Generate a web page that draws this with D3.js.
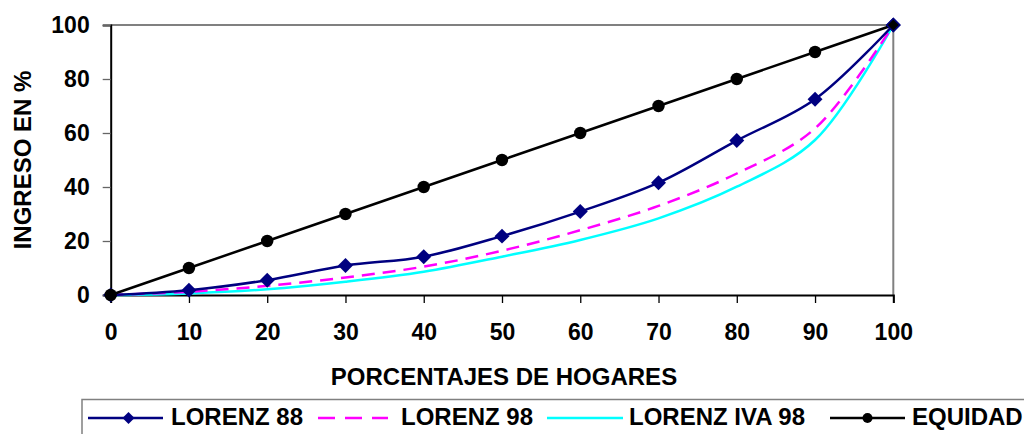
<!DOCTYPE html>
<html><head><meta charset="utf-8">
<script src="https://cdn.jsdelivr.net/npm/d3@7"></script>
<style>body{margin:0;background:#fff;}svg{display:block;font-family:Arial,"Liberation Sans",sans-serif;font-weight:bold;}</style>
</head><body>
<svg id="c" width="1024" height="434"></svg>
<script>
const xValues = [0,10,20,30,40,50,60,70,80,90,100];
const lorenz88 = [0,1.8,5.5,10.9,14.2,21.8,30.9,41.6,57.2,72.5,100];
const lorenz98 = [0,1.2,3.4,6.5,10.5,16.4,24,33,45,61.7,100];
const lorenzIva98 = [0,0.6,2.1,4.9,8.6,14.2,20.4,28.4,40.1,57.4,100];
const equidad = [0,10,20,30,40,50,60,70,80,90,100];
const yTicks = [0,20,40,60,80,100];
const seriesNames = ["LORENZ 88","LORENZ 98","LORENZ IVA 98","EQUIDAD"];

const svg = d3.select("#c");
const L=110.7, R=893.3, T=25, B=295;
const x = d3.scaleLinear().domain([0,100]).range([L,R]);
const y = d3.scaleLinear().domain([0,100]).range([B,T]);
const FONT = "Arial, 'Liberation Sans', sans-serif";

// plot frame
svg.append("line").attr("x1",L).attr("x2",R).attr("y1",T).attr("y2",T).attr("stroke","#808080").attr("stroke-width",2);
svg.append("line").attr("x1",R).attr("x2",R).attr("y1",T).attr("y2",B).attr("stroke","#808080").attr("stroke-width",2);

// axes
const yAxis = d3.axisLeft(y).tickValues(yTicks).tickSize(8).tickPadding(13);
const gy = svg.append("g").attr("transform",`translate(${L},0)`).call(yAxis);
const xAxis = d3.axisBottom(x).tickValues(xValues).tickSize(8).tickPadding(21);
const gx = svg.append("g").attr("transform",`translate(0,${B})`).call(xAxis);
[gy,gx].forEach(g=>{
  g.select(".domain").attr("stroke","#000").attr("stroke-width",2);
  g.selectAll(".tick line").attr("stroke","#000").attr("stroke-width",1.3);
  g.selectAll(".tick text").attr("font-size",23).attr("font-weight","bold").attr("fill","#000").attr("font-family",FONT);
});
gy.selectAll(".tick line").attr("stroke","#666");

// titles
svg.append("text").attr("x",x(50)+2).attr("y",385).attr("text-anchor","middle").attr("font-size",24).text("PORCENTAJES DE HOGARES");
svg.append("text").attr("transform",`translate(31,${(T+B)/2}) rotate(-90)`).attr("text-anchor","middle").attr("font-size",24).text("INGRESO EN %");

const smooth = d3.line().x((d,i)=>x(xValues[i])).y(d=>y(d)).curve(d3.curveCatmullRom.alpha(0.5));
const straight = d3.line().x((d,i)=>x(xValues[i])).y(d=>y(d));

const g = svg.append("g");
g.append("path").attr("d",smooth(lorenzIva98)).attr("fill","none").attr("stroke","#00FFFF").attr("stroke-width",2.5);
g.append("path").attr("d",smooth(lorenz98)).attr("fill","none").attr("stroke","#FF00FF").attr("stroke-width",2.5).attr("stroke-dasharray","13,8");
g.append("path").attr("d",smooth(lorenz88)).attr("fill","none").attr("stroke","#000080").attr("stroke-width",2.5);
g.append("path").attr("d",straight(equidad)).attr("fill","none").attr("stroke","#000").attr("stroke-width",2.5);

const diamondPath = d3.symbol().type(d3.symbolSquare).size(112)();
g.selectAll(".dm").data(lorenz88).join("path")
  .attr("d",diamondPath).attr("transform",(d,i)=>`translate(${x(xValues[i])},${y(d)}) rotate(45)`)
  .attr("fill","#000080");
g.selectAll(".ci").data(equidad.slice(0,10)).join("circle")
  .attr("cx",(d,i)=>x(xValues[i])).attr("cy",d=>y(d)).attr("r",6.2).attr("fill","#000");
// last equidad point is covered by the diamond at 100
g.append("path").attr("d",diamondPath)
  .attr("transform",`translate(${x(100)},${y(100)}) rotate(45)`).attr("fill","#000080");
g.append("path").attr("d",d3.symbol().type(d3.symbolSquare).size(60)())
  .attr("transform",`translate(${x(100)},${y(100)}) rotate(45)`).attr("fill","#000");
g.append("path").attr("d",d3.symbol().type(d3.symbolSquare).size(60)())
  .attr("transform",`translate(${x(0)},${y(0)}) rotate(45)`).attr("fill","#000");

// legend
const lg = svg.append("g");
lg.append("rect").attr("x",82).attr("y",399.5).attr("width",1000).attr("height",40).attr("fill","#fff").attr("stroke","#808080").attr("stroke-width",1.5);
const legendItems = [
  {name:seriesNames[0], x1:88, x2:163, tx:171, color:"#000080", dash:null, mark:"diamond"},
  {name:seriesNames[1], x1:318, x2:388, tx:401, color:"#FF00FF", dash:"17,10", mark:null},
  {name:seriesNames[2], x1:547, x2:623, tx:629, color:"#00FFFF", dash:null, mark:null},
  {name:seriesNames[3], x1:830, x2:905, tx:912, color:"#000", dash:null, mark:"circle"}
];
const ly = 418;
const legendDiamond = d3.symbol().type(d3.symbolSquare).size(72)();
legendItems.forEach(it=>{
  lg.append("line").attr("x1",it.x1).attr("x2",it.x2).attr("y1",ly).attr("y2",ly).attr("stroke",it.color).attr("stroke-width",2.5).attr("stroke-dasharray",it.dash);
  const mx=(it.x1+it.x2)/2;
  if(it.mark==="diamond") lg.append("path").attr("d",legendDiamond).attr("transform",`translate(${mx+3},${ly}) rotate(45)`).attr("fill",it.color);
  if(it.mark==="circle") lg.append("circle").attr("cx",mx).attr("cy",ly).attr("r",5).attr("fill",it.color);
  lg.append("text").attr("x",it.tx).attr("y",425).attr("font-size",24).text(it.name);
});
</script>
</body></html>
